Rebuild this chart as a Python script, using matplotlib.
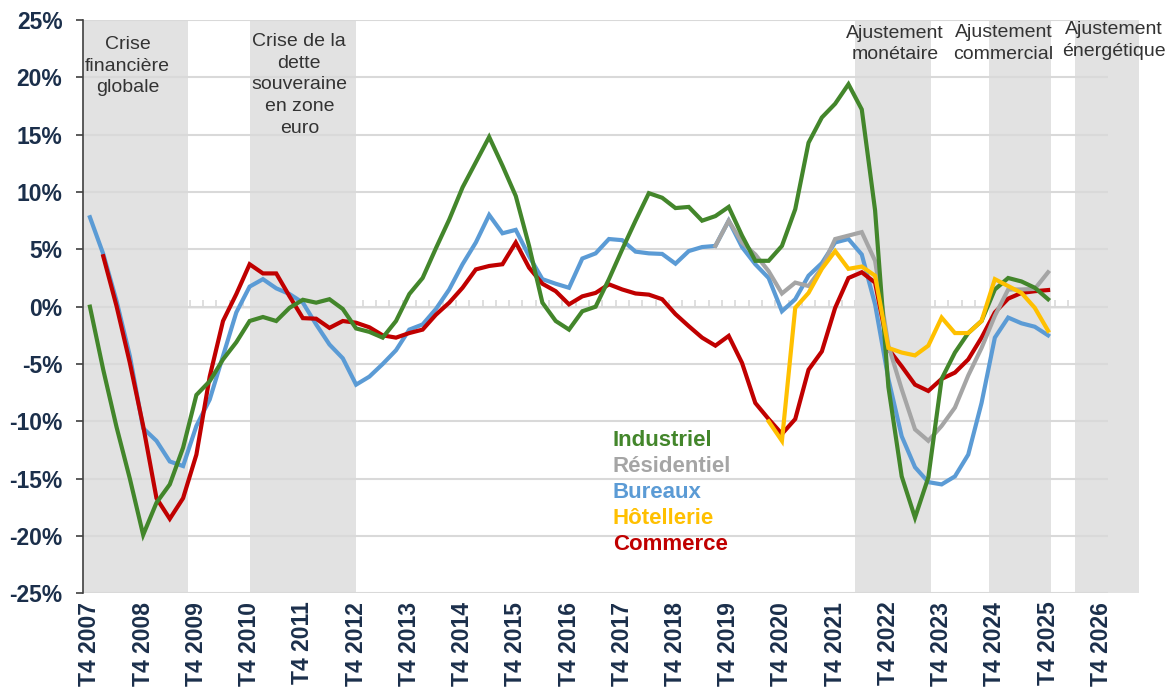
import numpy as np
import matplotlib.pyplot as plt

plt.rcParams['font.family'] = ['Liberation Sans', 'DejaVu Sans']

# trimestres T4 2007 -> T4 2026
annees = list(range(2007, 2027))
trimestres = ['T4 2007'] + [f'T{q} {a}' for a in range(2008, 2027) for q in (1, 2, 3, 4)]

# séries (%), par trimestre, à partir de l'indice de départ
industriel = [0.0, -5.5, -10.5, -15.0, -19.9, -17.1, -15.5, -12.3, -7.7, -6.5,
              -4.6, -3.1, -1.25, -0.9, -1.25, -0.1, 0.6, 0.35, 0.65, -0.2,
              -1.9, -2.2, -2.7, -1.25, 1.1, 2.5, 5.1, 7.6, 10.4, 12.6,
              14.8, 12.3, 9.65, 5.3, 0.35, -1.25, -2.0, -0.4, 0.0, 2.4,
              5.0, 7.5, 9.9, 9.5, 8.6, 8.7, 7.5, 7.9, 8.7, 6.2,
              4.0, 4.0, 5.3, 8.5, 14.3, 16.5, 17.7, 19.4, 17.2, 8.4,
              -7.0, -14.8, -18.4, -14.9, -6.3, -4.0, -2.3, -1.25, 1.5, 2.5,
              2.2, 1.65, 0.65]
industriel_debut = 0

bureaux = [7.8, 4.6, 0.5, -4.3, -10.6, -11.7, -13.5, -13.9, -10.4, -8.1,
           -4.3, -0.5, 1.75, 2.4, 1.6, 1.1, 0.35, -1.55, -3.3, -4.5,
           -6.8, -6.1, -5.0, -3.8, -2.0, -1.55, -0.2, 1.5, 3.7, 5.6,
           8.0, 6.4, 6.7, 4.4, 2.4, 2.0, 1.65, 4.2, 4.65, 5.9,
           5.8, 4.8, 4.65, 4.6, 3.75, 4.85, 5.2, 5.3, 7.5, 5.2,
           3.7, 2.5, -0.4, 0.65, 2.7, 3.8, 5.6, 5.9, 4.55, 0.2,
           -6.3, -11.3, -14.0, -15.3, -15.5, -14.8, -12.9, -8.4, -2.7, -0.95,
           -1.45, -1.75, -2.5]
bureaux_debut = 0

commerce = [4.4, 0.05, -4.9, -10.4, -16.7, -18.5, -16.7, -12.9, -6.1,
            -1.25, 1.1, 3.7, 2.9, 2.9, 0.9, -1.0, -1.05, -1.85, -1.25,
            -1.4, -1.8, -2.5, -2.7, -2.3, -2.0, -0.7, 0.35, 1.65, 3.25,
            3.55, 3.7, 5.6, 3.4, 2.0, 1.35, 0.2, 0.9, 1.2, 1.95,
            1.5, 1.15, 1.05, 0.65, -0.65, -1.7, -2.7, -3.4, -2.55, -4.9,
            -8.4, -9.8, -11.1, -9.8, -5.5, -3.9, -0.1, 2.5, 3.0, 2.1,
            -3.7, -5.2, -6.8, -7.35, -6.3, -5.75, -4.6, -2.7, -0.5, 0.7,
            1.2, 1.35, 1.45]
commerce_debut = 1

residentiel = [5.3, 7.5, 5.6, 4.55, 3.1, 1.15, 2.1, 1.8, 3.4, 5.9,
               6.2, 6.5, 4.0, -3.4, -7.2, -10.7, -11.7, -10.4, -8.8, -6.0,
               -3.6, -0.8, 1.5, 1.5, 1.55, 3.0]
residentiel_debut = 47

hotellerie = [-10.0, -11.7, -0.1, 1.2, 3.3, 4.85, 3.3, 3.5, 2.7, -3.6,
              -4.0, -4.25, -3.4, -0.95, -2.3, -2.3, -1.25, 2.4, 1.8, 1.2,
              -0.1, -2.1]
hotellerie_debut = 51

# périodes de crise (indices de trimestre)
periodes = [(-0.5, 7.35), (12.0, 20.0), (57.5, 63.2), (67.55, 72.25), (74.0, 78.8)]
periodes_textes = ['Crise\nfinancière\nglobale', 'Crise de la\ndette\nsouveraine\nen zone\neuro',
                   'Ajustement\nmonétaire', 'Ajustement\ncommercial', 'Ajustement\nénergétique']
textes_pos = [(2.83, 20.97), (15.73, 19.34), (60.5, 22.9), (68.65, 22.95), (76.93, 23.2)]

noms = ['Industriel', 'Résidentiel', 'Bureaux', 'Hôtellerie', 'Commerce']
couleurs = ['#43862B', '#A5A5A5', '#5B9BD5', '#FFC000', '#C00000']
navy = '#1B2F4B'

fig = plt.figure(figsize=(11.68, 6.88), dpi=100)
ax = fig.add_axes([0.0713, 0.1376, 0.8773, 0.8333])

for (a, b) in periodes:
    ax.axvspan(a, b, color='#E2E2E2', lw=0, zorder=0.2, clip_on=False)

for t, (px, py) in zip(periodes_textes, textes_pos):
    ax.text(px, py, t, ha='center', va='center', fontsize=14, color='#333333',
            linespacing=1.36, multialignment='center')

x = np.arange(len(trimestres))
series = [(bureaux, bureaux_debut), (commerce, commerce_debut), (residentiel, residentiel_debut),
          (industriel, industriel_debut), (hotellerie, hotellerie_debut)]
coul_series = [couleurs[2], couleurs[4], couleurs[1], couleurs[0], couleurs[3]]
for (vals, d), c in zip(series, coul_series):
    ax.plot(x[d:d + len(vals)], vals, color=c, lw=3, solid_joinstyle='miter', zorder=3)

# légende en texte coloré
for k, (n, c) in enumerate(zip(noms, couleurs)):
    ax.text(39.3, -11.7 - 2.27 * k, n, color=c, fontsize=16, fontweight='bold',
            ha='left', va='center')

ax.set_xlim(-0.5, len(trimestres) - 0.5)
ax.set_ylim(-25, 25)
yt = np.arange(-25, 26, 5)
ax.set_yticks(yt)
ax.set_yticklabels([f'{v}%' for v in yt], fontsize=16.5, fontweight='bold', color=navy)
ax.yaxis.grid(True, color='#D9D9D9', lw=1.5)
ax.set_axisbelow(True)
for g in ax.get_ygridlines():
    g.set_zorder(0.5)

idx_t4 = [trimestres.index(f'T4 {a}') for a in annees]
ax.set_xticks(idx_t4)
ax.set_xticklabels([f'T4 {a}' for a in annees], rotation=90, fontsize=16.5,
                   fontweight='bold', color=navy)
ax.tick_params(axis='x', length=0, pad=6)
ax.tick_params(axis='y', length=5, width=1.2, color='#404040', pad=10)

for s in ['top', 'right', 'bottom']:
    ax.spines[s].set_visible(False)
ax.spines['left'].set_color('#404040')
ax.spines['left'].set_linewidth(1.2)

# axe des abscisses à 0 %
sec = ax.secondary_xaxis(0.5)
sec.set_xticks(np.arange(-0.5, len(trimestres), 1))
sec.set_xticklabels([])
sec.tick_params(length=5, width=1.2, color='#D9D9D9', direction='out')
sec.spines['bottom'].set_color('#D9D9D9')
sec.spines['bottom'].set_linewidth(1.5)

fig.savefig('out.png', dpi=100)
